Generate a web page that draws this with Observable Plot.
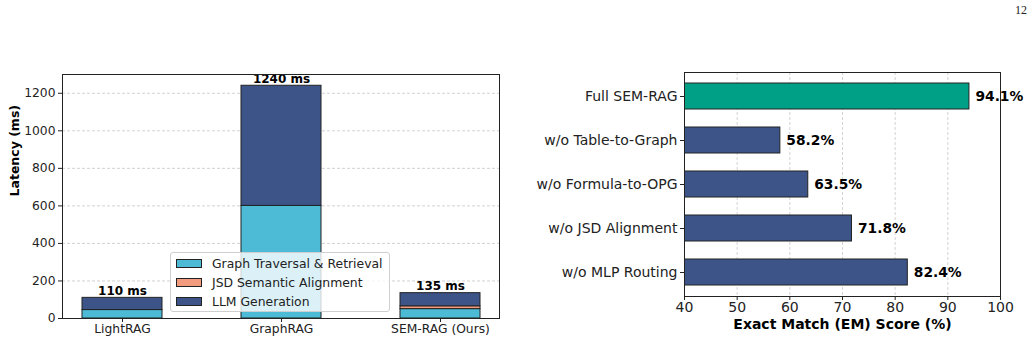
<!DOCTYPE html>
<html>
<head>
<meta charset="utf-8">
<script src="https://cdn.jsdelivr.net/npm/d3@7"></script>
<script src="https://cdn.jsdelivr.net/npm/@observablehq/plot@0.6"></script>
<style>
  html, body { margin: 0; padding: 0; background: #fff; }
  #wrap { position: relative; width: 1036px; height: 343px; overflow: hidden; font-family: "DejaVu Sans", sans-serif; }
  #left, #right { position: absolute; top: 0; }
  #left { left: 0; }
  #right { left: 520px; }
  #pagenum { position: absolute; left: 1015px; top: 3px; font-family: "Liberation Serif", "DejaVu Serif", serif; font-size: 12px; color: #222; }
  #legend { position: absolute; left: 170px; top: 252px; width: 218px; height: 58px; background: rgba(255,255,255,0.8); border: 1px solid #cfcfcf; border-radius: 3px; box-sizing: content-box; }
  .row { position: absolute; left: 5px; height: 19px; display: flex; align-items: center; font-size: 12.4px; color: #222; white-space: nowrap; }
  .sw { width: 24px; height: 7px; border: 1px solid #222; margin-right: 10px; }
</style>
</head>
<body>
<div id="wrap">
  <div id="left"></div>
  <div id="right"></div>
  <div id="legend"></div>
  <div id="pagenum">12</div>
</div>
<script>
// ---- Left panel data: latency breakdown ----
const methods = ["LightRAG", "GraphRAG", "SEM-RAG (Ours)"];
const components = ["Graph Traversal & Retrieval", "JSD Semantic Alignment", "LLM Generation"];
const traversalMs = [45, 600, 50];
const jsdMs = [0, 0, 15];
const llmMs = [65, 640, 70];
const totalMs = [110, 1240, 135];
const totalLabels = ["110 ms", "1240 ms", "135 ms"];
const componentColors = ["#4DBBD5", "#F39B7F", "#3C5488"];
const latencyTicks = [0, 200, 400, 600, 800, 1000, 1200];

// ---- Right panel data: ablation EM scores ----
const ablations = ["Full SEM-RAG", "w/o Table-to-Graph", "w/o Formula-to-OPG", "w/o JSD Alignment", "w/o MLP Routing"];
const emScores = [94.1, 58.2, 63.5, 71.8, 82.4];
const emLabels = ["94.1%", "58.2%", "63.5%", "71.8%", "82.4%"];
const ablationColors = ["#00A087", "#3C5488", "#3C5488", "#3C5488", "#3C5488"];
const emTicks = [40, 50, 60, 70, 80, 90, 100];

const ink = "#222";

// stacked rows
const stackRows = [];
methods.forEach((m, i) => {
  stackRows.push({method: m, component: components[0], value: traversalMs[i]});
  stackRows.push({method: m, component: components[1], value: jsdMs[i]});
  stackRows.push({method: m, component: components[2], value: llmMs[i]});
});
const totalRows = methods.map((m, i) => ({method: m, total: totalMs[i], label: totalLabels[i]}));

const left = Plot.plot({
  width: 520, height: 343,
  marginLeft: 62, marginRight: 21, marginTop: 74, marginBottom: 25,
  style: {fontFamily: "DejaVu Sans", background: "transparent", overflow: "visible"},
  x: {type: "band", domain: methods, paddingInner: 0.5, paddingOuter: 0.12, label: null},
  y: {domain: [0, 1300], label: null},
  color: {domain: components, range: componentColors},
  marks: [
    Plot.gridY(latencyTicks.filter(d => d > 0), {stroke: "#b8b8b8", strokeOpacity: 0.8, strokeDasharray: "3,2", strokeWidth: 0.8}),
    Plot.barY(stackRows, {x: "method", y: "value", fill: "component", stroke: ink, strokeWidth: 1}),
    Plot.text(totalRows, {x: "method", y: "total", text: "label", lineAnchor: "bottom", dy: -3, fontWeight: "bold", fontSize: 12, fill: "#000"}),
    Plot.axisY({ticks: latencyTicks, tickFormat: d3.format("d"), tickSize: 4, tickPadding: 3, fontSize: 12.3, color: ink, label: null}),
    Plot.axisX({tickSize: 4, tickPadding: 2, fontSize: 12.3, color: ink, label: null}),
    Plot.text(["Latency (ms)"], {frameAnchor: "left", rotate: -90, dx: -48, text: d => d, fontWeight: "bold", fontSize: 12.5, fill: "#000"}),
    Plot.frame({stroke: ink, strokeWidth: 1})
  ]
});
document.getElementById("left").appendChild(left);

const emRows = ablations.map((a, i) => ({name: a, score: emScores[i], label: emLabels[i], color: ablationColors[i]}));

const right = Plot.plot({
  width: 516, height: 343,
  marginLeft: 164, marginRight: 36, marginTop: 72, marginBottom: 47,
  style: {fontFamily: "DejaVu Sans", background: "transparent", overflow: "visible"},
  x: {domain: [40, 100], label: null},
  y: {type: "band", domain: ablations, paddingInner: 0.4, paddingOuter: 0.245, label: null},
  marks: [
    Plot.gridX(emTicks, {stroke: "#b8b8b8", strokeOpacity: 0.8, strokeDasharray: "3,2", strokeWidth: 0.8}),
    Plot.barX(emRows, {y: "name", x: "score", fill: "color", stroke: ink, strokeWidth: 1, clip: true}),
    Plot.text(emRows, {y: "name", x: "score", text: "label", textAnchor: "start", dx: 6, fontWeight: "bold", fontSize: 13.8, fill: "#000"}),
    Plot.axisX({ticks: emTicks, tickSize: 4, tickPadding: 2, fontSize: 14, color: ink, label: null}),
    Plot.axisY({tickSize: 4, tickPadding: 3, fontSize: 14, color: ink, label: null}),
    Plot.text(["Exact Match (EM) Score (%)"], {frameAnchor: "bottom", dy: 32, text: d => d, fontWeight: "bold", fontSize: 14, fill: "#000"}),
    Plot.frame({stroke: ink, strokeWidth: 1})
  ]
});
document.getElementById("right").appendChild(right);

// legend
const legend = document.getElementById("legend");
components.forEach((c, i) => {
  const row = document.createElement("div");
  row.className = "row";
  row.style.top = (1 + i * 19) + "px";
  const sw = document.createElement("div");
  sw.className = "sw";
  sw.style.background = componentColors[i];
  row.appendChild(sw);
  const t = document.createElement("span");
  t.textContent = c;
  row.appendChild(t);
  legend.appendChild(row);
});
</script>
</body>
</html>
